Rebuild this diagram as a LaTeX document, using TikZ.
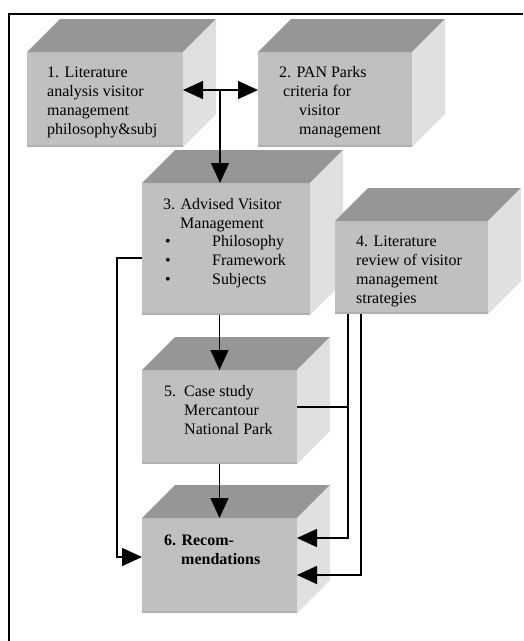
\documentclass[tikz,border=0pt]{standalone}
\usepackage{fontspec}
\setmainfont{Liberation Serif}
\usetikzlibrary{arrows.meta}
\definecolor{frontc}{RGB}{192,192,192}
\definecolor{topc}{RGB}{150,150,150}
\definecolor{sidec}{RGB}{224,224,224}
\definecolor{edgec}{RGB}{176,176,176}
\newcommand{\cube}[5]{%
  % #1 name, #2 left x, #3 top y, #4 width, #5 height
  \node[front, minimum width=#4, minimum height=#5, anchor=north west] (#1) at (#2,#3) {};
  \fill[topc] (#1.north west) -- ++(33,-33) -- ($(#1.north east)+(33,-33)$) -- (#1.north east) -- cycle;
  \fill[sidec] (#1.north east) -- ++(33,-33) -- ($(#1.south east)+(33,-33)$) -- (#1.south east) -- cycle;
  \draw[edgec, line width=2pt] ([yshift=1pt]#1.south west) -- ([yshift=1pt]#1.south east);
}
\usetikzlibrary{calc}
\tikzset{
  front/.style={fill=frontc, draw=none, inner sep=0pt, outer sep=0pt},
  txt/.style={anchor=base west, inner sep=0pt, font=\fontsize{16}{19}\selectfont},
  conn/.style={line width=1.5pt, draw=black},
  arr/.style={conn, -{Triangle[length=20pt,width=18pt]}},
  darr/.style={conn, {Triangle[length=20pt,width=18pt]}-{Triangle[length=20pt,width=18pt]}}
}
\begin{document}
\begin{tikzpicture}[x=1pt,y=-1pt]
\useasboundingbox (0,0) rectangle (523,641);
\fill[white] (0,0) rectangle (523,641);
\draw[line width=2pt] (9,641) -- (9,14) -- (523,14);

\cube{b1}{27}{52}{156}{95}
\cube{b2}{258}{52}{154}{95}
\cube{b3}{142}{183}{168}{132}
\cube{b4}{335}{221}{153}{93}
\cube{b5}{142}{370}{155}{94}
\cube{b6}{142}{518}{155}{95}

% texts
\node[txt] (t1a) at (47,77) {1. Literature};
\node[txt] (t1b) at (47,96) {analysis visitor};
\node[txt] (t1c) at (47,115) {management};
\node[txt] (t1d) at (47,134) {philosophy\&subj};

\node[txt] (t2a) at (279,77) {2. PAN Parks};
\node[txt] (t2b) at (283,96) {criteria for};
\node[txt] (t2c) at (299,115) {visitor};
\node[txt] (t2d) at (299,134) {management};

\node[txt] (t3a) at (163,209) {3. Advised Visitor};
\node[txt] (t3b) at (180,228) {Management};
\node[txt] (t3c) at (165,246) {\textbullet};
\node[txt] (t3d) at (212,246) {Philosophy};
\node[txt] (t3e) at (165,265) {\textbullet};
\node[txt] (t3f) at (212,265) {Framework};
\node[txt] (t3g) at (165,284) {\textbullet};
\node[txt] (t3h) at (212,284) {Subjects};

\node[txt] (t4a) at (356,246) {4. Literature};
\node[txt] (t4b) at (356,265) {review of visitor};
\node[txt] (t4c) at (356,284) {management};
\node[txt] (t4d) at (356,303) {strategies};

\node[txt] (t5a) at (164,396) {5.};
\node[txt] (t5b) at (184,396) {Case study};
\node[txt] (t5c) at (184,415) {Mercantour};
\node[txt] (t5d) at (184,434) {National Park};

\node[txt, font=\fontsize{16}{19}\selectfont\bfseries] (t6a) at (164,545) {6. Recom-};
\node[txt, font=\fontsize{16}{19}\selectfont\bfseries] (t6b) at (181,564) {mendations};

% connectors
\coordinate (j) at (220,90);
\draw[darr] (b1.east |- j) -- (b2.west |- j);
\draw[arr] (j) -- (j |- b3.north);
\draw[arr] (b5.north |- b3.south) -- (b5.north);
\draw[arr] (b5.south) -- (b6.north);

\coordinate (c3) at (117,258);
\coordinate (c6) at (117,557);
\draw[arr] (b3.west |- c3) -- (c3) -- (c6) -- (b6.west |- c6);

\coordinate (d1) at (348,538);
\coordinate (d2) at (361,575);
\draw[arr] (d1 |- b4.south) -- (d1) -- (d1 -| b6.east);
\draw[arr] (d2 |- b4.south) -- (d2) -- (d2 -| b6.east);

\coordinate (e) at (348,407);
\draw[conn] (e -| b5.east) -- (e);
\end{tikzpicture}
\end{document}
